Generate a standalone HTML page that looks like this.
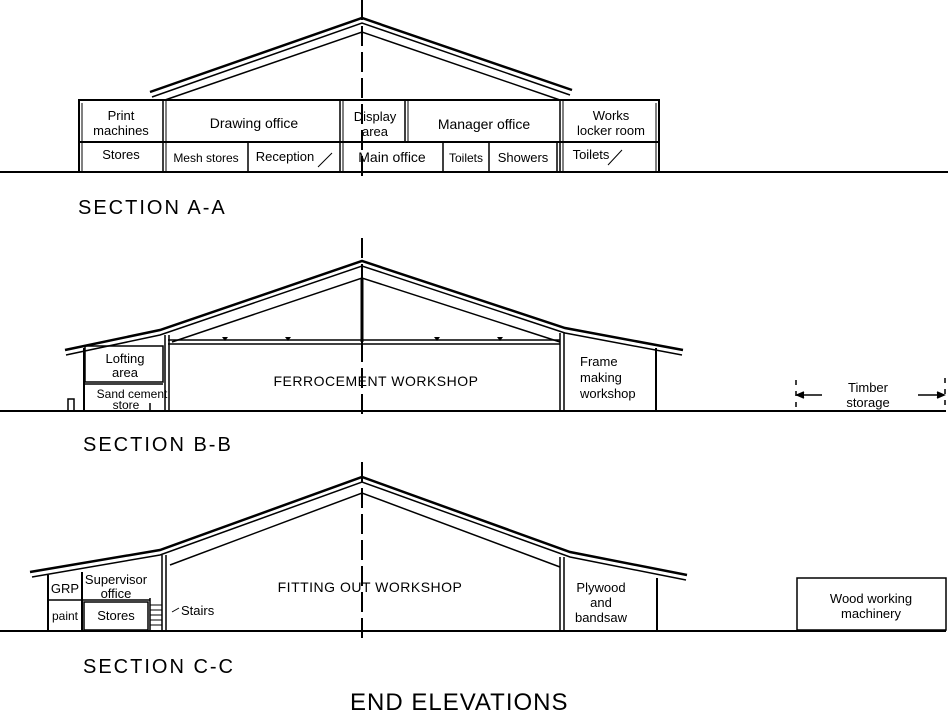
<!DOCTYPE html>
<html><head><meta charset="utf-8"><style>
html,body{margin:0;padding:0;background:#fff}
svg{display:block}
text{font-family:"Liberation Sans",sans-serif;fill:#000}
.t{font-size:13px}
.h{font-size:20px;letter-spacing:2px}
</style></head><body>
<svg width="950" height="718" viewBox="0 0 950 718" xmlns="http://www.w3.org/2000/svg">
<g stroke="#000" fill="none" stroke-width="1.5">
<!-- center dashed lines -->
<line x1="362" y1="0" x2="362" y2="182" stroke-width="2" stroke-dasharray="20,6"/>
<line x1="362" y1="238" x2="362" y2="420" stroke-width="2" stroke-dasharray="20,6"/>
<line x1="362" y1="462" x2="362" y2="640" stroke-width="2" stroke-dasharray="20,6"/>

<!-- SECTION A -->
<line x1="0" y1="172" x2="948" y2="172" stroke-width="2"/>
<polyline points="150,92 362,18 572,90" stroke-width="2.5"/>
<polyline points="152,97 362,23 570,95"/>
<polyline points="165,100 362,32 560,100"/>
<rect x="79" y="100" width="580" height="72" stroke-width="2"/>
<line x1="79" y1="142" x2="659" y2="142" stroke-width="2"/>
<line x1="82" y1="103" x2="82" y2="172" stroke-width="1"/>
<line x1="656" y1="103" x2="656" y2="172" stroke-width="1"/>
<line x1="163" y1="100" x2="163" y2="172"/><line x1="166" y1="100" x2="166" y2="172" stroke-width="1"/>
<line x1="340" y1="100" x2="340" y2="172"/><line x1="343" y1="100" x2="343" y2="172" stroke-width="1"/>
<line x1="405" y1="100" x2="405" y2="142"/><line x1="408" y1="100" x2="408" y2="142" stroke-width="1"/>
<line x1="560" y1="100" x2="560" y2="172"/><line x1="563" y1="100" x2="563" y2="172" stroke-width="1"/>
<line x1="248" y1="142" x2="248" y2="172"/>
<line x1="443" y1="142" x2="443" y2="172"/>
<line x1="489" y1="142" x2="489" y2="172"/>
<line x1="557" y1="142" x2="557" y2="172"/>
<polyline points="318,167 332,153" stroke-width="1"/>
<polyline points="608,165 622,150" stroke-width="1"/>

<!-- SECTION B -->
<line x1="0" y1="411" x2="946" y2="411" stroke-width="2"/>
<polyline points="65,350 160,330 362,261 565,328 683,350" stroke-width="2.5"/>
<polyline points="66,355 160,335 362,266 565,333 682,355"/>
<polyline points="172,342 362,278 560,342"/>
<line x1="168" y1="340" x2="560" y2="340"/><line x1="168" y1="344" x2="560" y2="344"/>
<line x1="362" y1="278" x2="362" y2="342" stroke-width="3"/>
<line x1="165" y1="335" x2="165" y2="411"/><line x1="169" y1="335" x2="169" y2="411"/>
<line x1="560" y1="333" x2="560" y2="411"/><line x1="564" y1="333" x2="564" y2="411"/>
<line x1="84" y1="348" x2="84" y2="411" stroke-width="2"/>
<rect x="85" y="346" width="78" height="36"/>
<line x1="85" y1="384" x2="163" y2="384"/>
<line x1="150" y1="403" x2="150" y2="411"/>
<rect x="68" y="399" width="6" height="12"/>
<g fill="#000" stroke="none">
<polygon points="222,337 228,337 225,341"/><polygon points="285,337 291,337 288,341"/>
<polygon points="434,337 440,337 437,341"/><polygon points="497,337 503,337 500,341"/>
</g>
<line x1="656" y1="348" x2="656" y2="411" stroke-width="2"/>
<line x1="796" y1="380" x2="796" y2="408" stroke-dasharray="5,6"/>
<line x1="945" y1="378" x2="945" y2="408" stroke-dasharray="5,6"/>
<line x1="797" y1="395" x2="822" y2="395"/>
<line x1="918" y1="395" x2="944" y2="395"/>
<polyline points="804,392 797,395 804,398" fill="#000"/>
<polyline points="937,392 944,395 937,398" fill="#000"/>

<!-- SECTION C -->
<line x1="0" y1="631" x2="946" y2="631" stroke-width="2"/>
<polyline points="30,572 160,550 362,477 570,552 687,575" stroke-width="2.5"/>
<polyline points="32,577 160,555 362,482 570,557 686,580"/>
<polyline points="170,565 362,493 560,567"/>
<line x1="162" y1="555" x2="162" y2="631"/><line x1="166" y1="555" x2="166" y2="631"/>
<line x1="560" y1="557" x2="560" y2="631"/><line x1="564" y1="557" x2="564" y2="631"/>
<line x1="48" y1="575" x2="48" y2="631" stroke-width="2"/>
<line x1="82" y1="572" x2="82" y2="631" stroke-width="2"/>
<line x1="48" y1="600" x2="150" y2="600"/>
<rect x="84" y="602" width="64" height="28"/>
<line x1="150" y1="598" x2="150" y2="631"/>
<g stroke-width="1"><line x1="150" y1="605" x2="162" y2="605"/><line x1="150" y1="610" x2="162" y2="610"/><line x1="150" y1="615" x2="162" y2="615"/><line x1="150" y1="620" x2="162" y2="620"/><line x1="150" y1="625" x2="162" y2="625"/></g>
<line x1="657" y1="578" x2="657" y2="631" stroke-width="2"/>
<line x1="172" y1="612" x2="179" y2="608" stroke-width="1"/>
<rect x="797" y="578" width="149" height="52"/>
</g>

<!-- labels A -->
<g class="t" text-anchor="middle">
<text x="121" y="120">Print</text><text x="121" y="135">machines</text>
<text x="254" y="128" style="font-size:14px">Drawing office</text>
<text x="375" y="121">Display</text><text x="375" y="136">area</text>
<text x="484" y="129" style="font-size:14px">Manager office</text>
<text x="611" y="120">Works</text><text x="611" y="135">locker room</text>
<text x="121" y="159">Stores</text>
<text x="206" y="162" style="font-size:12px">Mesh stores</text>
<text x="285" y="161">Reception</text>
<text x="392" y="162" style="font-size:14px">Main office</text>
<text x="466" y="162" style="font-size:12px">Toilets</text>
<text x="523" y="162">Showers</text>
<text x="591" y="159">Toilets</text>
<!-- B -->
<text x="125" y="363">Lofting</text><text x="125" y="377">area</text>
<text x="132" y="398" style="font-size:12px">Sand cement</text><text x="126" y="409" style="font-size:12px">store</text>
<text x="376" y="386" style="font-size:14px;letter-spacing:0.5px">FERROCEMENT WORKSHOP</text>
<text x="868" y="392">Timber</text><text x="868" y="407">storage</text>
<!-- C -->
<text x="65" y="593">GRP</text><text x="65" y="620" style="font-size:12px">paint</text>
<text x="116" y="584">Supervisor</text><text x="116" y="598">office</text>
<text x="116" y="620">Stores</text>
<text x="370" y="592" style="font-size:14px;letter-spacing:0.5px">FITTING OUT WORKSHOP</text>
<text x="601" y="592">Plywood</text><text x="601" y="607">and</text><text x="601" y="622">bandsaw</text>
<text x="871" y="603">Wood working</text><text x="871" y="618">machinery</text>
</g>
<g class="t">
<text x="580" y="366">Frame</text><text x="580" y="382">making</text><text x="580" y="398">workshop</text>
<text x="181" y="615">Stairs</text>
</g>
<text class="h" x="78" y="214">SECTION A-A</text>
<text class="h" x="83" y="451">SECTION B-B</text>
<text class="h" x="83" y="673">SECTION C-C</text>
<text x="350" y="710" style="font-size:24px;letter-spacing:1px">END ELEVATIONS</text>
</svg>
</body></html>
